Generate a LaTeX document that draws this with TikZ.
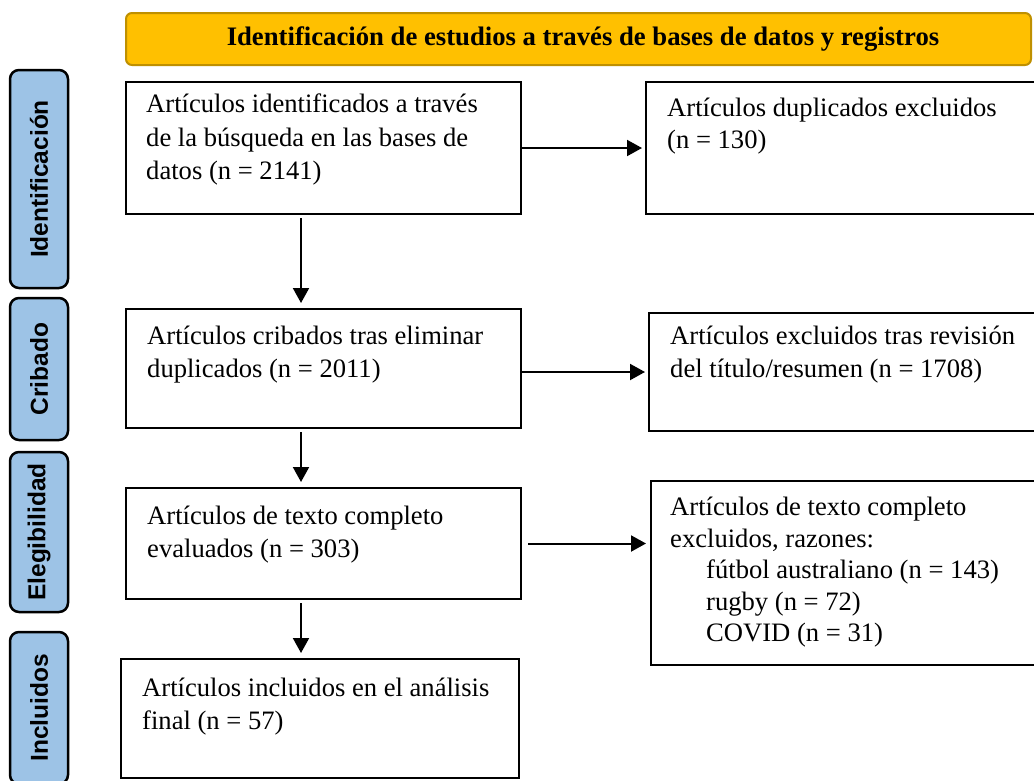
\documentclass[tikz,border=0pt]{standalone}
\usepackage{fontspec}
\setmainfont{Liberation Serif}
\newfontfamily\sidefont{Liberation Sans}
\usetikzlibrary{arrows.meta,calc}
\definecolor{sideblue}{HTML}{9DC3E6}
\definecolor{bannerfill}{HTML}{FFC000}
\definecolor{bannerdraw}{HTML}{BF9000}
\begin{document}
\begin{tikzpicture}[x=1pt,y=-1pt,
  box/.style={draw=black, line width=2pt, fill=white, anchor=north west, inner sep=0pt},
  txt/.style={anchor=north west, inner sep=0pt, align=left, font=\fontsize{26.6}{32.5}\selectfont},
  side/.style={draw=black, line width=2.5pt, fill=sideblue, rounded corners=9pt, rotate=90,
    minimum height=58pt, inner sep=0pt, font=\sidefont\bfseries\fontsize{24.5}{28}\selectfont},
  banner/.style={draw=bannerdraw, line width=2pt, fill=bannerfill, rounded corners=6pt,
    anchor=north west, inner sep=0pt},
  arr/.style={line width=2pt, -{Triangle[length=15pt,width=16pt]}},
]
\useasboundingbox (0,0) rectangle (1034,780);
\clip (0,0) rectangle (1034,780);
\fill[white] (0,0) rectangle (1034,780);

% banner
\node[banner, minimum width=905pt, minimum height=52pt] (ban) at (125,12) {};
\node[inner sep=0pt, font=\bfseries\fontsize{26.7}{30}\selectfont] (bantxt) at (583,39)
  {Identificación de estudios a través de bases de datos y registros};

% side labels
\node[side, minimum width=218pt] (s1) at (39,179) {Identificación};
\node[side, minimum width=142pt] (s2) at (39,369) {Cribado};
\node[side, minimum width=160pt] (s3) at (39,532) {Elegibilidad};
\node[side, minimum width=152pt] (s4) at (39,708) {Incluidos};

% boxes
\node[box, minimum width=395pt, minimum height=132pt] (b1) at (125,81) {};
\node[box, minimum width=400pt, minimum height=132pt] (b2) at (645,81) {};
\node[box, minimum width=395pt, minimum height=119pt] (b3) at (125,308) {};
\node[box, minimum width=400pt, minimum height=118pt] (b4) at (648,312) {};
\node[box, minimum width=395pt, minimum height=111pt] (b5) at (125,487) {};
\node[box, minimum width=400pt, minimum height=184pt] (b6) at (650,480) {};
\node[box, minimum width=398pt, minimum height=119pt] (b7) at (120,658) {};

% texts
\node[txt, font=\fontsize{26.6}{33.5}\selectfont] (t1) at (146,94) {Artículos identificados a través\\de la búsqueda en las bases de\\datos (n = 2141)};
\node[txt, font=\fontsize{26.6}{32}\selectfont] (t2) at (667,98) {Artículos duplicados excluidos\\(n = 130)};
\node[txt] (t3) at (147,326) {Artículos cribados tras eliminar\\duplicados (n = 2011)};
\node[txt, font=\fontsize{26.6}{33}\selectfont] (t4) at (670,326) {Artículos excluidos tras revisión\\del título/resumen (n = 1708)};
\node[txt] (t5) at (147,506) {Artículos de texto completo\\evaluados (n = 303)};
\node[txt, font=\fontsize{26.6}{31.5}\selectfont] (t6) at (670,497) {Artículos de texto completo\\excluidos, razones:\\\hspace*{36pt}fútbol australiano (n = 143)\\\hspace*{36pt}rugby (n = 72)\\\hspace*{36pt}COVID (n = 31)};
\node[txt] (t7) at (142,678) {Artículos incluidos en el análisis\\final (n = 57)};

% arrows
\coordinate (ax) at (301,0);
\draw[arr, shorten >=3pt] (b1) -- (b2);
\draw[arr, shorten >=3pt] (b3.east |- b4.west) -- (b4.west);
\draw[arr, shorten >=4pt] ([xshift=6pt]b5.east) -- (b5.east -| b6.west);
\draw[arr, shorten <=3pt, shorten >=5pt] (b1.south -| ax) -- (b3.north -| ax);
\draw[arr, shorten <=3pt, shorten >=5pt] (b3.south -| ax) -- (b5.north -| ax);
\draw[arr, shorten <=3pt, shorten >=5pt] (b5.south -| ax) -- (b7.north -| ax);
\end{tikzpicture}
\end{document}
